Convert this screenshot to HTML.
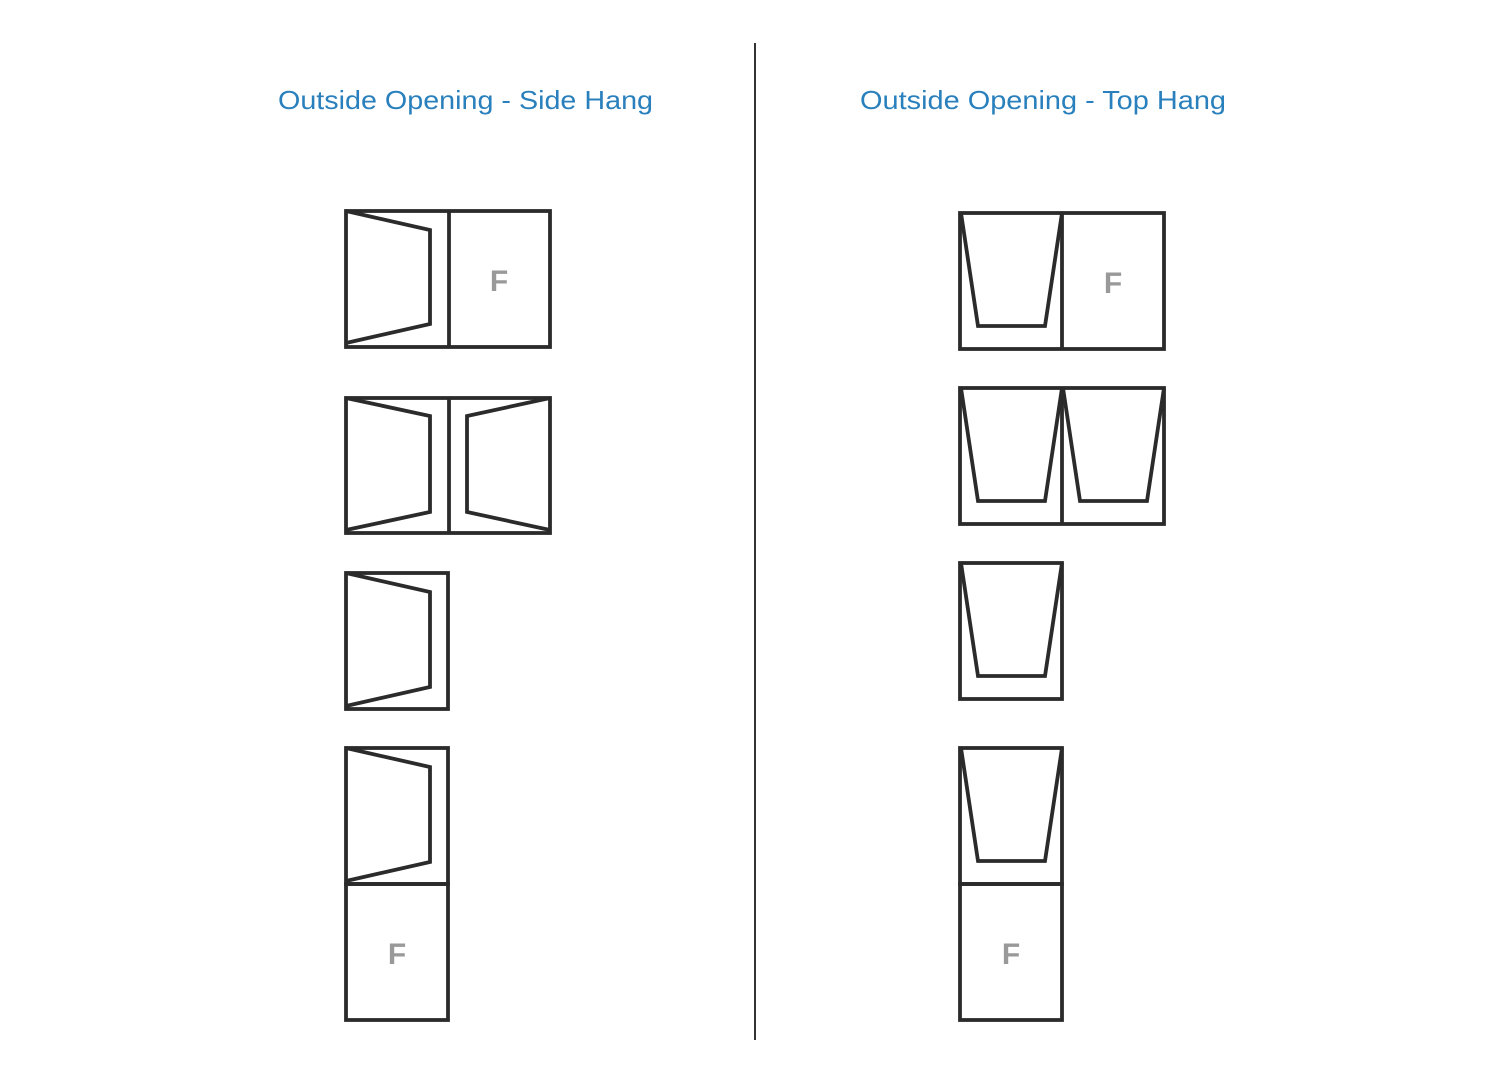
<!DOCTYPE html>
<html><head><style>html,body{margin:0;padding:0;background:#fff}</style></head>
<body>
<svg width="1503" height="1084" viewBox="0 0 1503 1084" xmlns="http://www.w3.org/2000/svg">
<rect width="1503" height="1084" fill="#fff"/>
<line x1="755" y1="43" x2="755" y2="1040" stroke="#333" stroke-width="2"/>
<g font-family="Liberation Sans, sans-serif" font-size="26" fill="#2a80bc">
<text x="278" y="109" textLength="375" lengthAdjust="spacingAndGlyphs">Outside Opening - Side Hang</text>
<text x="860" y="109" textLength="366" lengthAdjust="spacingAndGlyphs">Outside Opening - Top Hang</text>
</g>
<g fill="none" stroke="#2b2b2b" stroke-width="3.8" stroke-linejoin="miter">
<rect x="346" y="211" width="204" height="136"/>
<line x1="449" y1="211" x2="449" y2="347"/>
<polyline points="346,211 430,230 430,324 346,343"/>
<rect x="346" y="398" width="204" height="135"/>
<line x1="449" y1="398" x2="449" y2="533"/>
<polyline points="346,398 430,416 430,512 346,530"/>
<polyline points="550,398 467,416 467,512 550,530"/>
<rect x="346" y="573" width="102" height="136"/>
<polyline points="346,573 430,592 430,687 346,706"/>
<rect x="346" y="748" width="102" height="136"/>
<rect x="346" y="884" width="102" height="136"/>
<polyline points="346,748 430,767 430,862 346,881"/>
<rect x="960" y="213" width="204" height="136"/>
<line x1="1062" y1="213" x2="1062" y2="349"/>
<polyline points="961,213 978,326 1045,326 1062,213"/>
<rect x="960" y="388" width="204" height="136"/>
<line x1="1062" y1="388" x2="1062" y2="524"/>
<polyline points="961,388 978,501 1045,501 1062,388"/>
<polyline points="1063,388 1080,501 1147,501 1164,388"/>
<rect x="960" y="563" width="102" height="136"/>
<polyline points="961,563 978,676 1045,676 1062,563"/>
<rect x="960" y="748" width="102" height="136"/>
<rect x="960" y="884" width="102" height="136"/>
<polyline points="961,748 978,861 1045,861 1062,748"/>
</g>
<g font-family="Liberation Sans, sans-serif" font-size="30" font-weight="bold" fill="#999" text-anchor="middle">
<text x="499" y="291">F</text>
<text x="1113" y="293">F</text>
<text x="397" y="964">F</text>
<text x="1011" y="964">F</text>
</g>
</svg>
</body></html>
